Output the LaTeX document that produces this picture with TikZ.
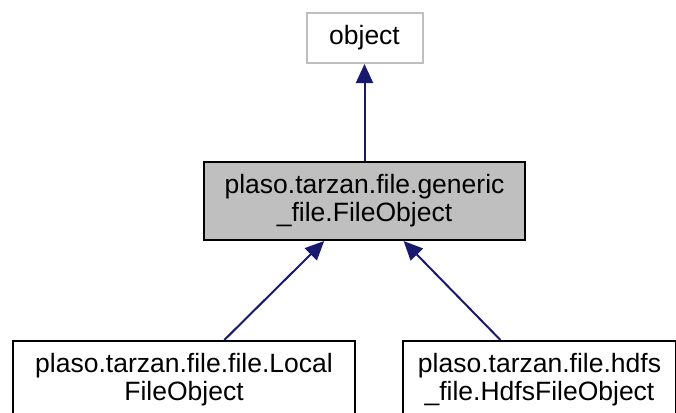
\documentclass[tikz,border=0pt]{standalone}
\usepackage{fontspec}
\setmainfont{Liberation Sans}
\usepackage{tikz}
\usetikzlibrary{arrows.meta}
\definecolor{edgeblue}{HTML}{191970}
\definecolor{boxgray}{HTML}{BFBFBF}

\begin{document}
\begin{tikzpicture}[x=1pt,y=-1pt,
	box/.style={shape=rectangle,draw=black,line width=2pt,inner sep=0pt,align=center,font=\fontsize{26.5}{28}\selectfont},
	inherit/.style={draw=edgeblue,line width=2pt,-{Triangle[length=19pt,width=17pt,fill=edgeblue]}}]
	
	\useasboundingbox (0,0) rectangle (676,412);
	\clip (0,0) rectangle (676,412);
	
	\node[box,draw=boxgray,minimum width=116pt,minimum height=50pt] (object) at (364.5,38) {object};
	\node[box,fill=boxgray,minimum width=321pt,minimum height=78pt] (fileobj) at (364.5,201) {plaso.tarzan.file.generic\\\_file.FileObject};
	\node[box,minimum width=342pt,minimum height=78pt] (localobj) at (184,380) {plaso.tarzan.file.file.Local\\FileObject};
	\node[box,minimum width=273pt,minimum height=78pt] (hdfsobj) at (539.5,380) {plaso.tarzan.file.hdfs\\\_file.HdfsFileObject};
	
	
	\path[inherit] (fileobj) edge (object);
	\path[inherit] (localobj) edge (fileobj);
	\path[inherit] (hdfsobj) edge (fileobj);
	
\end{tikzpicture}
\end{document}
